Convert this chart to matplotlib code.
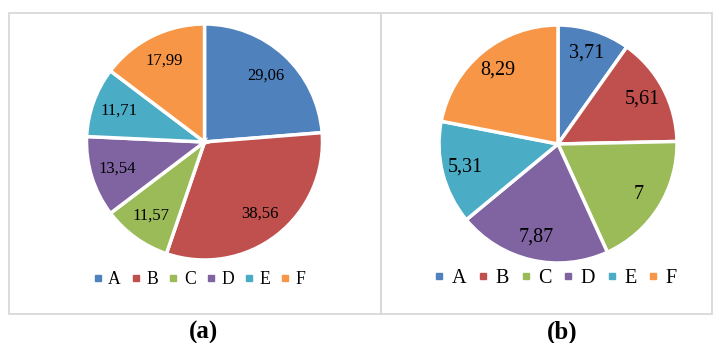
import matplotlib
matplotlib.use("Agg")
import matplotlib.pyplot as plt
from matplotlib.lines import Line2D
from matplotlib.patches import Rectangle

# Data
categories = ["A", "B", "C", "D", "E", "F"]
values_a = [29.06, 38.56, 11.57, 13.54, 11.71, 17.99]
values_b = [3.71, 5.61, 7, 7.87, 5.31, 8.29]
colors = ["#4F81BD", "#C0504D", "#9BBB59", "#8064A2", "#4BACC6", "#F79646"]
captions = ["(a)", "(b)"]

W, H = 713, 343
DPI = 100
plt.rcParams["font.family"] = ["Liberation Serif", "DejaVu Serif"]

fig = plt.figure(figsize=(W / DPI, H / DPI), dpi=DPI)


def fmt(v):
    return f"{round(v, 2):g}".replace(".", ",")


def px_axes(cx, cy, r):
    """Axes sized so a unit-radius pie sits at pixel (cx, cy) with radius r."""
    ax = fig.add_axes([(cx - r) / W, 1 - (cy + r) / H, 2 * r / W, 2 * r / H])
    ax.set_axis_off()
    return ax


# Panel frames
for x0, x1 in [(9, 381), (381, 712)]:
    fig.patches.append(Rectangle((x0 / W, 1 - 314 / H), (x1 - x0) / W, (314 - 12.5) / H,
                                 transform=fig.transFigure, fill=False,
                                 edgecolor="#d9d9d9", linewidth=1.3))

panels = [
    dict(vals=values_a, c=(204.5, 142), r=118, lab_fs=12, lab_d=0.77,
         leg_xy=(199, 280), leg_fs=12.7, cap_x=203),
    dict(vals=values_b, c=(558, 144), r=119, lab_fs=14.5, lab_d=0.8,
         leg_xy=(555, 278), leg_fs=14.5, cap_x=562),
]

for p, cap in zip(panels, captions):
    ax = px_axes(p["c"][0], p["c"][1], p["r"])
    wedges, texts = ax.pie(p["vals"], colors=colors, startangle=90, counterclock=False,
                           labels=[fmt(v) for v in p["vals"]], labeldistance=p["lab_d"],
                           wedgeprops=dict(edgecolor="white", linewidth=2.5),
                           textprops=dict(fontsize=p["lab_fs"], color="black"))
    ax.set_xlim(-1, 1)
    ax.set_ylim(-1, 1)
    for t in texts:
        t.set_ha("center")
        t.set_va("center")

    handles = [Line2D([], [], marker="s", linestyle="none", markersize=4.2,
                      markerfacecolor=col, markeredgecolor=col) for col in colors]
    fig.legend(handles, categories, loc="center",
               bbox_to_anchor=(p["leg_xy"][0] / W, 1 - p["leg_xy"][1] / H),
               ncol=6, frameon=False, fontsize=p["leg_fs"],
               handlelength=0.6, handletextpad=0.3, columnspacing=0.55,
               borderpad=0, borderaxespad=0)

    fig.text(p["cap_x"] / W, 1 - 332 / H, cap, ha="center", va="center",
             fontsize=18, fontweight="bold")

fig.savefig("out.png", dpi=DPI)
